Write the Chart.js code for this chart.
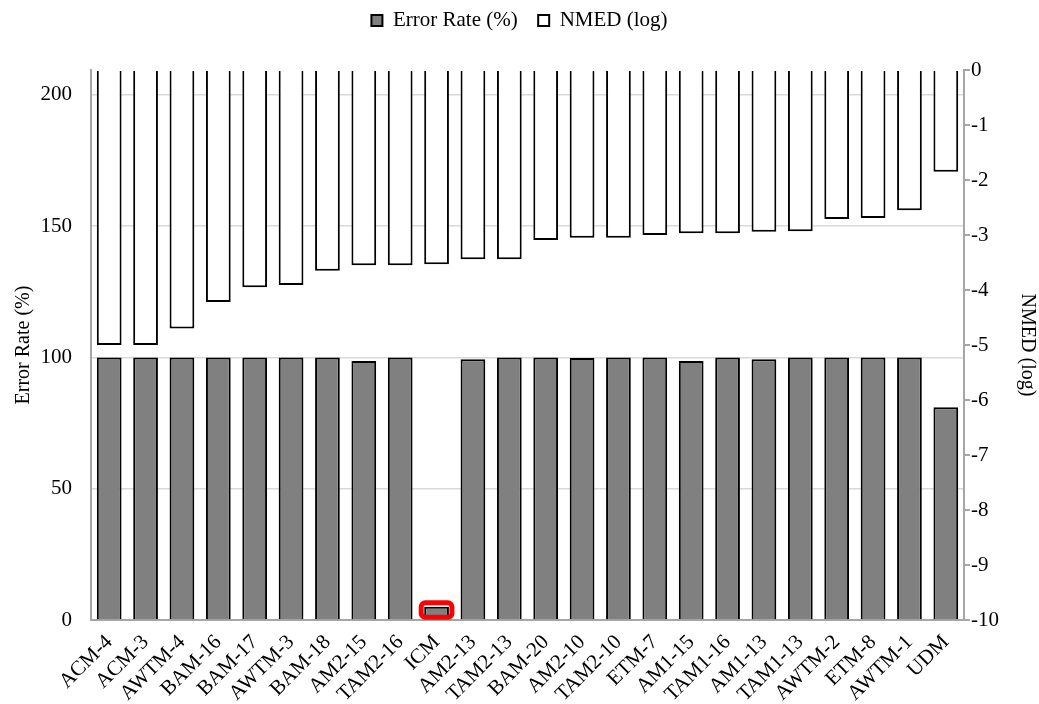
<!DOCTYPE html>
<html>
<head>
<meta charset="utf-8">
<script src="https://cdn.jsdelivr.net/npm/chart.js@4/dist/chart.umd.min.js"></script>
<style>
  html, body { margin: 0; padding: 0; background: #fff; }
  #wrap { width: 1039px; height: 704px; }
</style>
</head>
<body>
<div id="wrap"><canvas id="chart" width="1039" height="704"></canvas></div>
<script>
// Chart data
const categories = ['ACM-4', 'ACM-3', 'AWTM-4', 'BAM-16', 'BAM-17', 'AWTM-3', 'BAM-18', 'AM2-15',
    'TAM2-16', 'ICM', 'AM2-13', 'TAM2-13', 'BAM-20', 'AM2-10', 'TAM2-10', 'ETM-7', 'AM1-15',
    'TAM1-16', 'AM1-13', 'TAM1-13', 'AWTM-2', 'ETM-8', 'AWTM-1', 'UDM'];
const errorRate = [100, 100, 100, 100, 100, 100, 100, 98.7, 100, 5, 99.3, 100, 100, 99.8, 100, 100,
    98.7, 100, 99.3, 100, 100, 100, 100, 81];
const nmedLog = [-5.0, -5.0, -4.70, -4.22, -3.95, -3.91, -3.65, -3.55, -3.55, -3.53, -3.44, -3.44,
    -3.09, -3.05, -3.05, -3.0, -2.97, -2.97, -2.94, -2.93, -2.71, -2.69, -2.55, -1.85];
const errorTicks = [0, 50, 100, 150, 200];
const highlightIndex = categories.indexOf('ICM');

const FONT = "'Liberation Serif', 'Times New Roman', serif";

// Extra space between the legend and the plot
const legendGapPlugin = {
    id: 'legendGap',
    beforeInit(chart) {
        const legend = chart.legend;
        if (!legend) return;
        const fit = legend.fit;
        legend.fit = function () {
            fit.call(this);
            this.height += 29;
        };
    }
};

// Red rounded box around the highlighted bar
const highlightPlugin = {
    id: 'highlight',
    afterDatasetsDraw(chart) {
        const bar = chart.getDatasetMeta(0).data[highlightIndex];
        if (!bar) return;
        const ctx = chart.ctx;
        const half = bar.width / 2 + 3;
        ctx.save();
        ctx.strokeStyle = '#ff0000';
        ctx.lineWidth = 5;
        ctx.beginPath();
        ctx.roundRect(bar.x - half, bar.y - 4, half * 2, bar.base - bar.y + 2, 4);
        ctx.stroke();
        ctx.restore();
    }
};

const ctx = document.getElementById('chart').getContext('2d');
new Chart(ctx, {
    type: 'bar',
    data: {
        labels: categories,
        datasets: [
            {
                label: 'Error Rate (%)',
                data: errorRate,
                yAxisID: 'y',
                backgroundColor: '#808080',
                borderColor: '#000',
                borderWidth: 2,
                grouped: false,
                categoryPercentage: 1,
                barPercentage: 0.68
            },
            {
                label: 'NMED (log)',
                data: nmedLog,
                yAxisID: 'y2',
                backgroundColor: '#fff',
                borderColor: '#000',
                borderWidth: 2,
                grouped: false,
                categoryPercentage: 1,
                barPercentage: 0.68
            }
        ]
    },
    options: {
        responsive: false,
        animation: false,
        layout: { padding: 0 },
        plugins: {
            legend: {
                position: 'top',
                labels: {
                    boxWidth: 11,
                    boxHeight: 11,
                    padding: 10,
                    color: '#000',
                    font: { family: FONT, size: 21 },
                    generateLabels(chart) {
                        const items = Chart.defaults.plugins.legend.labels.generateLabels(chart);
                        // a little more room between the two entries
                        items[0].text += '  ';
                        return items;
                    }
                }
            },
            tooltip: { enabled: false }
        },
        scales: {
            x: {
                grid: { display: false },
                border: { color: '#a6a6a6', width: 2 },
                ticks: {
                    color: '#000',
                    autoSkip: false,
                    minRotation: 45,
                    maxRotation: 45,
                    padding: 2,
                    font: { family: FONT, size: 21 }
                },
                afterFit(scale) { scale.height = 84; }
            },
            y: {
                position: 'left',
                min: 0,
                max: 209.5,
                afterBuildTicks(scale) {
                    scale.ticks = errorTicks.map(v => ({ value: v }));
                },
                grid: { color: '#d9d9d9', lineWidth: 1.5, drawTicks: false },
                border: { color: '#a6a6a6', width: 2 },
                ticks: {
                    color: '#000',
                    padding: 19,
                    font: { family: FONT, size: 21 }
                },
                title: {
                    display: true,
                    text: 'Error Rate (%)',
                    color: '#000',
                    font: { family: FONT, size: 20 },
                    padding: { top: 12, bottom: 0 }
                },
                afterFit(scale) { scale.width = 91; }
            },
            y2: {
                position: 'right',
                min: -10,
                max: 0,
                grid: { drawOnChartArea: false, color: '#a6a6a6', lineWidth: 2, tickLength: 6 },
                border: { color: '#a6a6a6', width: 2 },
                ticks: {
                    stepSize: 1,
                    color: '#000',
                    padding: 1,
                    font: { family: FONT, size: 21 }
                },
                title: {
                    display: true,
                    text: 'NMED (log)',
                    color: '#000',
                    font: { family: FONT, size: 20 },
                    padding: 0
                },
                afterFit(scale) { scale.width = 75; }
            }
        }
    },
    plugins: [legendGapPlugin, highlightPlugin]
});
</script>
</body>
</html>
